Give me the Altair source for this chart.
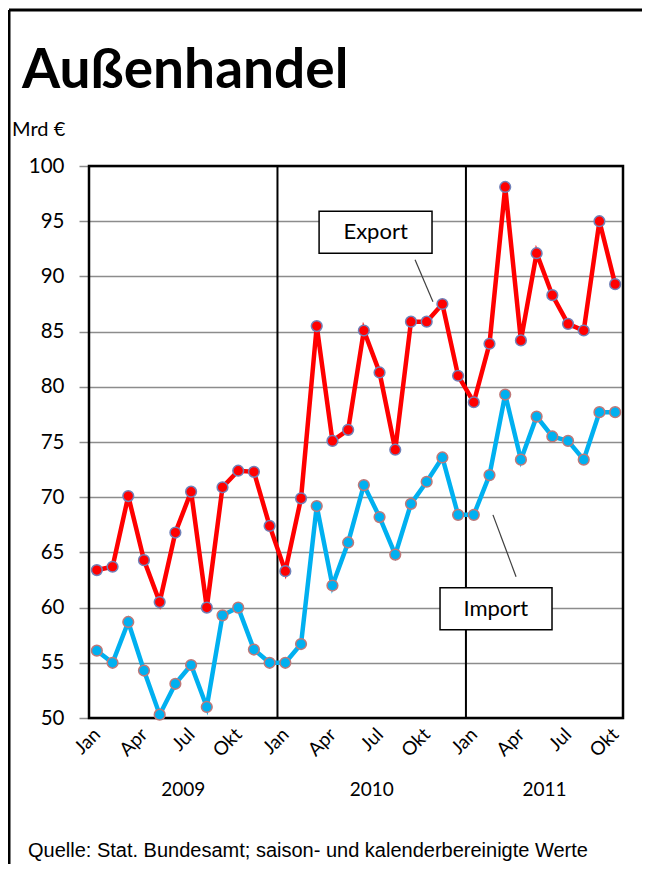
import altair as alt
import pandas as pd

# ---------------- data ----------------
years = ["2009", "2010", "2011"]
months_per_year = [12, 12, 10]
tick_labels = ["Jan", "Apr", "Jul", "Okt"]

export_vals = [63.4, 63.7, 70.1, 64.3, 60.5, 66.8, 70.5, 60.0, 70.9, 72.4, 72.3, 67.4,
               63.3, 69.9, 85.5, 75.1, 76.1, 85.1, 81.3, 74.3, 85.9, 85.9, 87.5, 81.0,
               78.6, 83.9, 98.1, 84.2, 92.1, 88.3, 85.7, 85.1, 95.0, 89.3]
import_vals = [56.1, 55.0, 58.7, 54.3, 50.3, 53.1, 54.8, 51.0, 59.3, 60.0, 56.2, 55.0,
               55.0, 56.7, 69.2, 62.0, 65.9, 71.1, 68.2, 64.8, 69.4, 71.4, 73.6, 68.4,
               68.4, 72.0, 79.3, 73.4, 77.3, 75.5, 75.1, 73.4, 77.7, 77.7]

series_names = ["Export", "Import"]
title_text = "Außenhandel"
unit_text = "Mrd €"
source_text = "Quelle: Stat. Bundesamt; saison- und kalenderbereinigte Werte"

# ---------------- tables ----------------
n = len(export_vals)
idx = list(range(n))
df = pd.DataFrame({
    "i": idx * 2,
    "value": export_vals + import_vals,
    "series": [series_names[0]] * n + [series_names[1]] * n,
})

starts = [sum(months_per_year[:k]) for k in range(len(years))]
sep_df = pd.DataFrame({"i": [s - 0.5 for s in starts[1:]]})
year_df = pd.DataFrame({
    "i": [s + (m - 1) / 2 for s, m in zip(starts, months_per_year)],
    "label": years,
})

# annotation boxes (data coordinates)
box_df = pd.DataFrame({
    "label": series_names,
    "i": [14.15, 21.85], "i2": [21.34, 28.98],
    "value": [95.9, 61.8], "value2": [92.1, 58.0],
    "ti": [17.75, 25.4], "tv": [94.0, 59.9],
    "li": [20.26, 25.22], "li2": [21.4, 26.69],
    "lv": [91.5, 68.4], "lv2": [87.7, 62.8],
})

W, H = 534, 552
xs = alt.Scale(domain=[-0.5, n - 0.5], nice=False, zero=False)
ys = alt.Scale(domain=[50, 100], nice=False, zero=False)

lab_arr = "[" + ",".join("'%s'" % t for t in tick_labels) + "]"
xaxis = alt.Axis(
    title=None, values=list(range(0, n, 3)),
    labelExpr=lab_arr + "[(datum.value % 12) / 3]",
    labelAngle=-45, labelAlign="right", labelBaseline="middle",
    labelFont="Lato", labelFontSize=19, labelColor="black", labelPadding=13,
    ticks=False, grid=False, domain=False,
)
yaxis = alt.Axis(
    title=None, values=list(range(50, 101, 5)),
    labelFont="Lato", labelFontSize=20.5, labelColor="black", labelPadding=15,
    tickColor="#8c8c8c", tickSize=10, tickWidth=1.5,
    grid=True, gridColor="#8c8c8c", gridWidth=1.5, domain=False,
)


def X(f):
    return alt.X(f, type="quantitative", scale=xs, axis=xaxis)


def Y(f):
    return alt.Y(f, type="quantitative", scale=ys, axis=yaxis)


color_scale = alt.Scale(domain=series_names, range=["#FF0000", "#00B0F0"])
stroke_scale = alt.Scale(domain=series_names, range=["#7080B8", "#C07878"])

base_lines = alt.Chart(df).mark_line(strokeWidth=4.5).encode(
    x=X("i"), y=Y("value"),
    color=alt.Color("series:N", scale=color_scale, legend=None),
)
points = alt.Chart(df).mark_circle(size=115, opacity=1, strokeWidth=1.5).encode(
    x=X("i"), y=Y("value"),
    fill=alt.Fill("series:N", scale=color_scale, legend=None),
    stroke=alt.Stroke("series:N", scale=stroke_scale, legend=None),
)

border = alt.Chart(pd.DataFrame({"k": [0]})).mark_rect(
    fillOpacity=0, stroke="black", strokeWidth=2.5
).encode(x=alt.value(0), x2=alt.value(W), y=alt.value(0), y2=alt.value(H))

seps = alt.Chart(sep_df).mark_rule(color="black", strokeWidth=2).encode(x=X("i"))

year_text = alt.Chart(year_df).mark_text(
    font="Lato", fontSize=19, color="black", baseline="middle"
).encode(x=X("i"), y=alt.value(624), text="label:N")

leaders = alt.Chart(box_df).mark_rule(color="#404040", strokeWidth=1.2).encode(
    x=X("li"), x2="li2", y=Y("lv"), y2="lv2"
)
boxes = alt.Chart(box_df).mark_rect(
    fill="white", stroke="black", strokeWidth=1.5
).encode(x=X("i"), x2="i2", y=Y("value"), y2="value2")
box_text = alt.Chart(box_df).mark_text(
    font="Lato", fontSize=22, color="black", baseline="middle", align="center"
).encode(x=X("ti"), y=Y("tv"), text="label:N")

one = pd.DataFrame({"k": [0]})
title = alt.Chart(one).mark_text(
    text=title_text, font="Lato", fontWeight="bold", fontSize=55,
    align="left", baseline="alphabetic", color="black"
).encode(x=alt.value(-67), y=alt.value(-78))
unit = alt.Chart(one).mark_text(
    text=unit_text, font="Lato", fontSize=20, align="left",
    baseline="middle", color="black"
).encode(x=alt.value(-77), y=alt.value(-36))
source = alt.Chart(one).mark_text(
    text=source_text, font="Liberation Sans", fontSize=20, align="left",
    baseline="middle", color="black"
).encode(x=alt.value(-61), y=alt.value(685))

frame_left = alt.Chart(one).mark_rule(color="black", strokeWidth=3).encode(
    x=alt.value(-80), y=alt.value(-156), y2=alt.value(H + 300)
)
frame_top = alt.Chart(one).mark_rule(color="black", strokeWidth=3).encode(
    x=alt.value(-80), x2=alt.value(W + 200), y=alt.value(-156)
)

chart = alt.layer(
    border, seps, base_lines, points, leaders, boxes, box_text,
    year_text, title, unit, source, frame_left, frame_top,
).properties(
    width=W, height=H,
    padding={"left": 81, "top": 158, "right": 19, "bottom": 146},
    autosize=alt.AutoSizeParams(type="none"),
).configure_view(stroke=None).configure(background="white")

chart.save("out.html", embed_options={"renderer": "svg", "actions": False})
